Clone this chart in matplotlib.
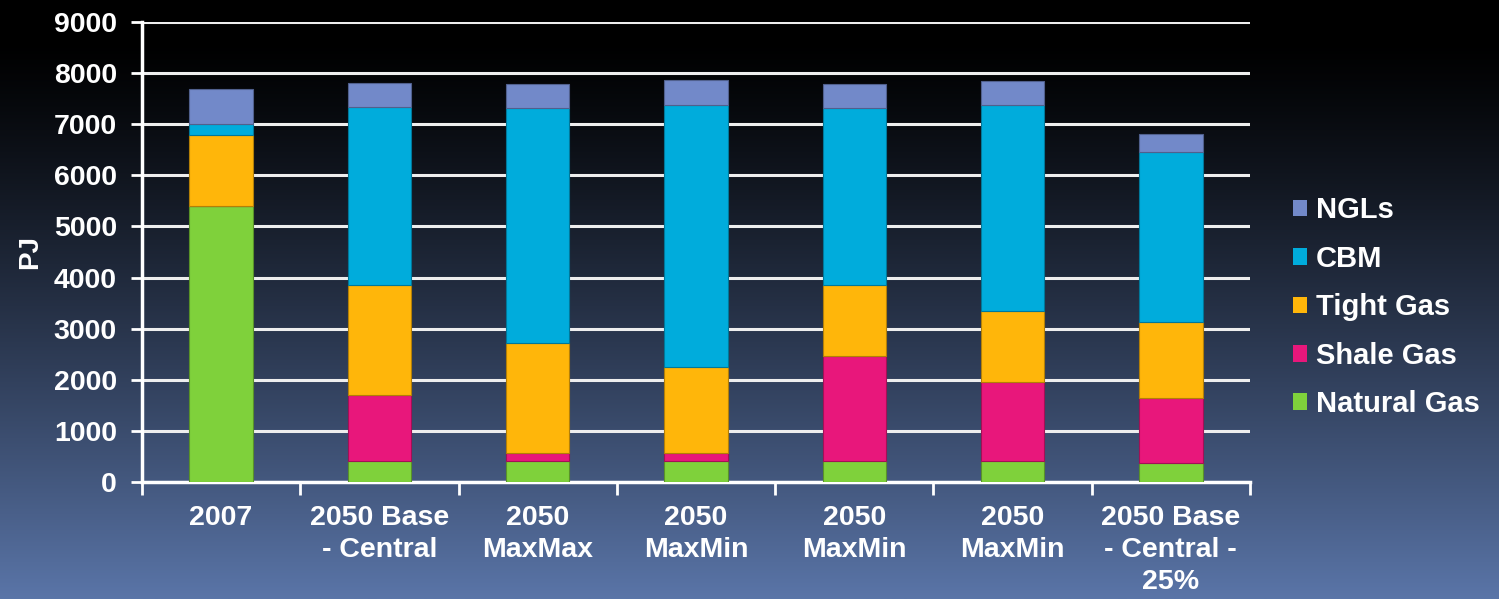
import numpy as np
import matplotlib
matplotlib.use("Agg")
import matplotlib.pyplot as plt
from matplotlib.colors import to_rgb

plt.rcParams['font.family'] = ['Liberation Sans', 'DejaVu Sans']
plt.rcParams['font.weight'] = 'bold'

categories = ["2007", "2050 Base\n- Central", "2050\nMaxMax", "2050\nMaxMin",
              "2050\nMaxMin", "2050\nMaxMin", "2050 Base\n- Central -\n25%"]

natural_gas = [5400, 415, 415, 415, 415, 415, 365]
shale_gas = [0, 1285, 155, 155, 2045, 1540, 1285]
tight_gas = [1390, 2155, 2155, 1675, 1400, 1395, 1490]
cbm = [210, 3475, 4590, 5135, 3460, 4020, 3315]
ngls = [690, 470, 475, 480, 470, 475, 350]

series = [
    ("Natural Gas", natural_gas, "#7fd13b"),
    ("Shale Gas", shale_gas, "#e8177b"),
    ("Tight Gas", tight_gas, "#ffb60a"),
    ("CBM", cbm, "#00acdc"),
    ("NGLs", ngls, "#7289c9"),
]

fig = plt.figure(figsize=(14.99, 5.99), dpi=100)

# vertical gradient backdrop: black at the top, slate blue at the bottom
bg = fig.add_axes([0, 0, 1, 1], zorder=-10)
t = np.clip((np.linspace(0, 599, 600) - 40) / 559, 0, 1) ** 1.2
bottom_rgb = np.array(to_rgb("#5a75a8"))
grad = t[:, None, None] * bottom_rgb[None, None, :]
grad = np.repeat(grad, 2, axis=1)
bg.imshow(grad, aspect='auto', extent=[0, 1, 0, 1], origin='upper')
bg.axis('off')

ax = fig.add_axes([0.0947, 0.1953, 0.7392, 0.768])
ax.patch.set_alpha(0)

x = np.arange(len(categories))
base = np.zeros(len(categories))
handles = []
for name, vals, col in series:
    edge = tuple(c * 0.7 for c in to_rgb(col))
    h = ax.bar(x, vals, width=0.4, bottom=base, color=col, edgecolor=edge,
               linewidth=0.8, zorder=3, label=name)
    handles.append(h)
    base = base + np.array(vals)

ax.set_ylim(0, 9000)
ax.set_xlim(-0.5, len(categories) - 0.5)
ax.set_yticks(np.arange(0, 9001, 1000))
ax.yaxis.grid(True, color='#eeeeee', linewidth=2.2, zorder=1)
ax.set_axisbelow(True)

for s in ['top', 'right']:
    ax.spines[s].set_visible(False)
for s in ['left', 'bottom']:
    ax.spines[s].set_color('white')
    ax.spines[s].set_linewidth(2.5)

# category separators as major ticks, names on minor ticks at bar centres
ax.set_xticks(np.arange(-0.5, len(categories)), minor=False)
ax.set_xticklabels([])
ax.set_xticks(x, minor=True)
ax.set_xticklabels(categories, minor=True, fontsize=20.5, color='white',
                   fontweight='bold', linespacing=1.29)
ax.tick_params(axis='x', which='major', length=9, width=2, color='white', direction='out')
ax.tick_params(axis='x', which='minor', length=0, pad=16.5)
ax.tick_params(axis='y', length=8, width=2, color='white', labelsize=20.5,
               labelcolor='white', pad=10)
for lab in ax.get_yticklabels():
    lab.set_fontweight('bold')

ax.set_ylabel("PJ", fontsize=20, color='white', fontweight='bold', labelpad=7.5)

leg = ax.legend(handles[::-1], [s[0] for s in series][::-1],
                loc='center left', bbox_to_anchor=(1.015, 0.38), frameon=False,
                fontsize=21, labelcolor='white', handlelength=0.5,
                handleheight=0.5, handletextpad=0.3, labelspacing=0.7)
for h in leg.legend_handles:
    h.set_edgecolor('none')

fig.savefig("out.png", dpi=100)
